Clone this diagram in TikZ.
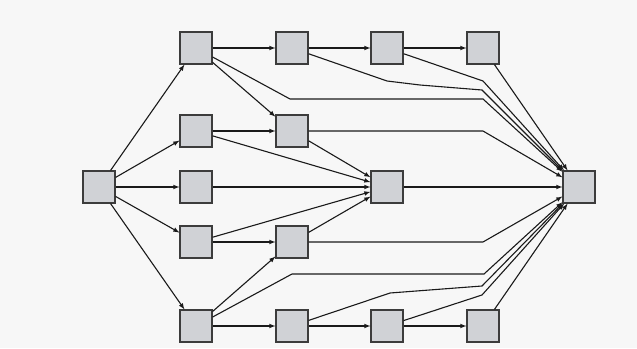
\documentclass[tikz,border=0pt]{standalone}
\usepackage{xcolor}
\usepackage{tikz}
\usetikzlibrary{positioning}

\definecolor{bgcol}{HTML}{F7F7F7}
\definecolor{boxfill}{HTML}{D0D2D6}
\definecolor{boxline}{HTML}{3C3C3C}
\definecolor{edgecol}{HTML}{1A1A1A}

\begin{document}
\begin{tikzpicture}[
        x=1pt, y=-1pt,
        box/.style={rectangle, draw=boxline, fill=boxfill, line width=1.2pt, minimum width=32pt, minimum height=32pt, inner sep=0pt},
        arrow/.style={-latex, line width=1.1pt, color=edgecol}
    ]

        \fill[bgcol] (0,0) rectangle (637,348);
        \useasboundingbox (0,0) rectangle (637,348);

        % columns of blocks
        \node[box] (src) at (99,187) {};
        \node[box] (a1) at (196,48) {};
        \node[box] (b1) at (196,131) {};
        \node[box] (c1) at (196,187) {};
        \node[box] (d1) at (196,242) {};
        \node[box] (e1) at (196,326) {};
        \node[box] (a2) at (292,48) {};
        \node[box] (b2) at (292,131) {};
        \node[box] (d2) at (292,242) {};
        \node[box] (e2) at (292,326) {};
        \node[box] (a3) at (387,48) {};
        \node[box] (mid) at (387,187) {};
        \node[box] (e3) at (387,326) {};
        \node[box] (a4) at (483,48) {};
        \node[box] (e4) at (483,326) {};
        \node[box] (snk) at (579,187) {};

        % fan out
        \draw[arrow] (src) -- (a1);
        \draw[arrow] (src) -- (b1);
        \draw[arrow] (src) -- (c1);
        \draw[arrow] (src) -- (d1);
        \draw[arrow] (src) -- (e1);

        % chains
        \draw[arrow] (a1) -- (a2);
        \draw[arrow] (a2) -- (a3);
        \draw[arrow] (a3) -- (a4);
        \draw[arrow] (a1) -- (b2);
        \draw[arrow] (b1) -- (b2);
        \draw[arrow] (e1) -- (e2);
        \draw[arrow] (e2) -- (e3);
        \draw[arrow] (e3) -- (e4);
        \draw[arrow] (e1) -- (d2);
        \draw[arrow] (d1) -- (d2);

        % into the middle block
        \draw[arrow] (b1) -- (mid);
        \draw[arrow] (c1) -- (mid);
        \draw[arrow] (d1) -- (mid);
        \draw[arrow] (b2) -- (mid);
        \draw[arrow] (d2) -- (mid);

        % into the sink
        \draw[arrow] (mid) -- (snk);
        \draw[arrow] (a1) -- (290,99) -- (483,99) -- (snk);
        \draw[arrow] (a2) -- (387,81) -- (420,85) -- (482,90) -- (snk);
        \draw[arrow] (a3) -- (483,81) -- (snk);
        \draw[arrow] (a4) -- (snk);
        \draw[arrow] (b2) -- (483,131) -- (snk);
        \draw[arrow] (d2) -- (483,242) -- (snk);
        \draw[arrow] (e1) -- (292,274) -- (484,274) -- (snk);
        \draw[arrow] (e2) -- (390,293) -- (482,286) -- (snk);
        \draw[arrow] (e3) -- (482,295) -- (snk);
        \draw[arrow] (e4) -- (snk);
    \end{tikzpicture}
\end{document}
